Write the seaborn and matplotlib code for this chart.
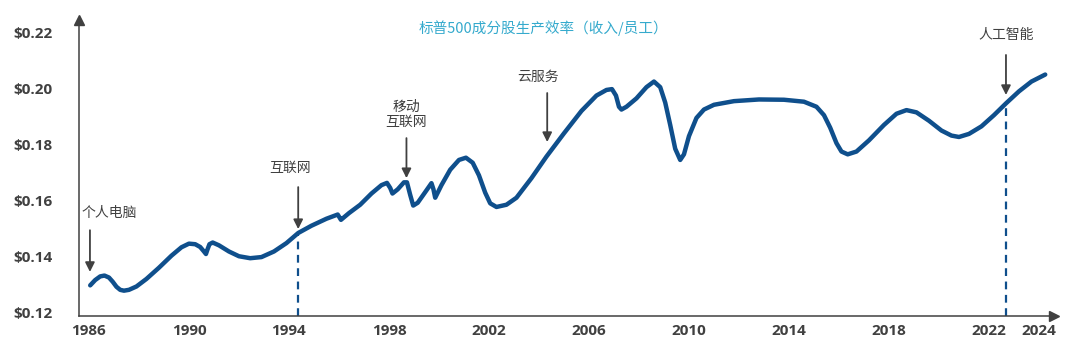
import matplotlib
matplotlib.use("Agg")
import matplotlib.pyplot as plt
import numpy as np
import pandas as pd
import seaborn as sns

# values
years = [
    1986.05, 1986.25, 1986.45, 1986.62, 1986.8, 1986.95, 1987.1, 1987.25, 1987.4, 1987.6,
    1987.9, 1988.3, 1988.8, 1989.3, 1989.7, 1990.0, 1990.25, 1990.45, 1990.6, 1990.68,
    1990.74, 1990.82, 1990.95, 1991.2, 1991.6, 1992.0, 1992.45, 1992.9, 1993.4, 1993.9,
    1994.37, 1994.9, 1995.5, 1995.95, 1996.02, 1996.08, 1996.4, 1996.85, 1997.3, 1997.7,
    1997.92, 1998.05, 1998.14, 1998.35, 1998.6, 1998.72, 1998.85, 1998.97, 1999.15, 1999.45,
    1999.7, 1999.78, 1999.85, 2000.1, 2000.45, 2000.8, 2001.08, 2001.35, 2001.6, 2001.85,
    2002.05, 2002.3, 2002.7, 2003.1, 2003.7, 2004.3, 2005.0, 2005.7, 2006.3, 2006.7,
    2006.92, 2007.08, 2007.2, 2007.3, 2007.5, 2007.9, 2008.3, 2008.6, 2008.85, 2009.05,
    2009.25, 2009.45, 2009.65, 2009.8, 2010.0, 2010.3, 2010.6, 2011.0, 2011.8, 2012.8,
    2013.8, 2014.6, 2015.1, 2015.4, 2015.65, 2015.9, 2016.1, 2016.35, 2016.7, 2017.2,
    2017.8, 2018.3, 2018.7, 2019.1, 2019.6, 2020.1, 2020.5, 2020.8, 2021.2, 2021.7,
    2022.2, 2022.68, 2023.2, 2023.7, 2024.25,
]
revenue_per_employee = [
    0.1297, 0.1316, 0.1329, 0.1332, 0.1325, 0.1310, 0.1292, 0.1281, 0.1278, 0.1281,
    0.1293, 0.1320, 0.1360, 0.1403, 0.1433, 0.1446, 0.1444, 0.1434, 0.1418, 0.1409,
    0.1425, 0.1444, 0.1450, 0.1440, 0.1418, 0.1401, 0.1394, 0.1398, 0.1418, 0.1448,
    0.1484, 0.1510, 0.1535, 0.1550, 0.1540, 0.1531, 0.1555, 0.1585, 0.1625, 0.1655,
    0.1663, 0.1645, 0.1625, 0.1640, 0.1665, 0.1665, 0.1620, 0.1582, 0.1592, 0.1630,
    0.1662, 0.1640, 0.1610, 0.1655, 0.1710, 0.1745, 0.1753, 0.1735, 0.1690, 0.1628,
    0.1590, 0.1577, 0.1585, 0.1610, 0.1680, 0.1757, 0.1840, 0.1920, 0.1975, 0.1995,
    0.1998, 0.1975, 0.1935, 0.1925, 0.1935, 0.1965, 0.2005, 0.2025, 0.2005, 0.1950,
    0.1870, 0.1785, 0.1745, 0.1765, 0.1830, 0.1895, 0.1925, 0.1942, 0.1955, 0.1961,
    0.1960, 0.1953, 0.1935, 0.1905, 0.1860, 0.1805, 0.1775, 0.1765, 0.1775, 0.1815,
    0.1870, 0.1910, 0.1923, 0.1915, 0.1885, 0.1850, 0.1832, 0.1827, 0.1838, 0.1865,
    0.1905, 0.1947, 0.1990, 0.2025, 0.2050,
]

x_ticks = [1986, 1990, 1994, 1998, 2002, 2006, 2010, 2014, 2018, 2022, 2024]
y_ticks = [0.12, 0.14, 0.16, 0.18, 0.20, 0.22]

# technology waves
event_labels = ["个人电脑", "互联网", "移动\n互联网", "云服务", "人工智能"]
event_years = [1986.04, 1994.37, 1998.7, 2004.33, 2022.68]
event_tip_values = [0.1345, 0.1498, 0.1680, 0.1809, 0.1977]
dashed_years = [1994.37, 2022.68]
dashed_values = [0.1484, 0.1947]

# layout of the annotation text (arrow tail, text anchor)
event_tail_values = [0.1494, 0.1648, 0.1823, 0.1984, 0.2120]
event_text_x = [1985.72, 1994.06, 1998.7, 2003.96, 2022.68]
event_text_y = [0.1555, 0.1716, 0.1909, 0.2041, 0.2191]
event_ha = ["left", "center", "center", "center", "center"]

LINE_COLOR = "#0F4F8C"
TEXT_GRAY = "#404040"
TITLE_COLOR = "#35AACD"


def main() -> None:
    sns.set_theme(style="white")
    plt.rcParams["font.family"] = ["Open Sans", "Noto Sans CJK SC", "DejaVu Sans"]

    df = pd.DataFrame({"year": years, "value": revenue_per_employee})

    fig = plt.figure(figsize=(10.8, 3.54), dpi=100)
    ax = fig.add_axes([0.0731, 0.1073, 0.9028, 0.836])

    sns.lineplot(data=df, x="year", y="value", color=LINE_COLOR, linewidth=3.2,
                 solid_capstyle="round", ax=ax, zorder=3)

    ax.set_xlim(1985.6, 2024.6)
    ax.set_ylim(0.11875, 0.22446)

    for yr, val in zip(dashed_years, dashed_values):
        ax.plot([yr, yr], [0.11875, val], color=LINE_COLOR, lw=1.6,
                linestyle=(0, (3.5, 2.5)), zorder=2)

    for lab, yr, tip, tail, tx, ty, ha in zip(event_labels, event_years, event_tip_values,
                                               event_tail_values, event_text_x, event_text_y,
                                               event_ha):
        ax.annotate("", xy=(yr, tip), xytext=(yr, tail),
                    arrowprops=dict(arrowstyle="-|>", color=TEXT_GRAY, lw=1.3,
                                    mutation_scale=14, shrinkA=0, shrinkB=0))
        ax.text(tx, ty, lab, ha=ha, va="center", fontsize=10, color=TEXT_GRAY,
                family=["Noto Sans CJK SC", "DejaVu Sans"], linespacing=1.1)

    ax.set_xticks(x_ticks)
    ax.set_xticklabels([str(t) for t in x_ticks])
    ax.set_yticks(y_ticks)
    ax.set_yticklabels([f"${t:.2f}" for t in y_ticks])
    ax.tick_params(axis="both", length=0, labelsize=11, labelcolor=TEXT_GRAY)
    ax.tick_params(axis="y", pad=19)
    ax.tick_params(axis="x", pad=6)
    for lbl in ax.get_xticklabels() + ax.get_yticklabels():
        lbl.set_fontweight("bold")
    ax.set_xlabel("")
    ax.set_ylabel("")

    for side in ["top", "right"]:
        ax.spines[side].set_visible(False)
    for side in ["left", "bottom"]:
        ax.spines[side].set_color(TEXT_GRAY)
        ax.spines[side].set_linewidth(1.1)
    ax.plot(1, 0, marker=">", color=TEXT_GRAY, markersize=7,
            transform=ax.transAxes, clip_on=False)
    ax.plot(0, 1, marker="^", color=TEXT_GRAY, markersize=7,
            transform=ax.transAxes, clip_on=False)

    fig.text(0.503, 0.921, "标普500成分股生产效率（收入/员工）", ha="center", va="center",
             fontsize=10.5, color=TITLE_COLOR, family=["Noto Sans CJK SC", "DejaVu Sans"])

    fig.savefig("out.png", dpi=100)
    plt.close(fig)


if __name__ == "__main__":
    main()
